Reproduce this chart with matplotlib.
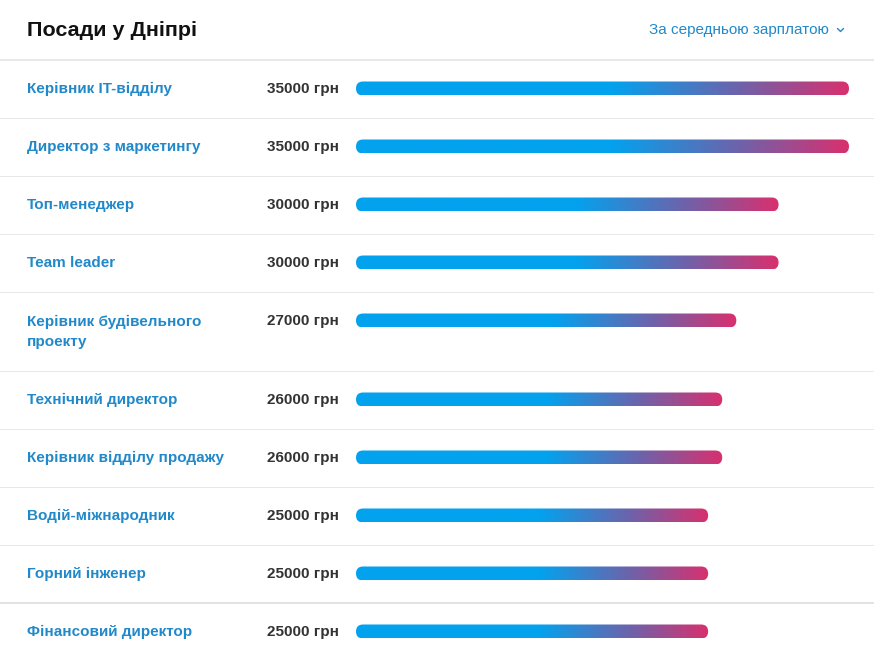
import matplotlib
matplotlib.use("Agg")
import matplotlib.pyplot as plt
import numpy as np
from matplotlib.patches import FancyBboxPatch
from matplotlib.colors import LinearSegmentedColormap

# ---- data ----
title = "Посади у Дніпрі"
sort_label = "За середньою зарплатою"
jobs = [
    "Керівник IT-відділу",
    "Директор з маркетингу",
    "Топ-менеджер",
    "Team leader",
    "Керівник будівельного\nпроекту",
    "Технічний директор",
    "Керівник відділу продажу",
    "Водій-міжнародник",
    "Горний інженер",
    "Фінансовий директор",
]
salaries = [35000, 35000, 30000, 30000, 27000, 26000, 26000, 25000, 25000, 25000]
currency = "грн"

# ---- style ----
W, H = 874, 652
BLUE_TXT = "#2189c9"
DARK = "#333333"
SEP = "#e8e8e8"
plt.rcParams['font.family'] = ['Liberation Sans', 'DejaVu Sans']

fig = plt.figure(figsize=(W / 100, H / 100), dpi=100)
fig.patch.set_facecolor("white")

# text / layout axes in pixel coordinates
ax = fig.add_axes([0, 0, 1, 1])
ax.set_xlim(0, W)
ax.set_ylim(H, 0)
ax.axis("off")

px = 72 / 100  # points per pixel

ax.text(27, 31, title, fontsize=21.5 * px, fontweight="bold", color="#111111",
        va="center", ha="left")
ax.text(829, 30, sort_label, fontsize=15.3 * px, color=BLUE_TXT,
        va="center", ha="right")
ax.plot([837.5, 840.5, 843.5], [28.5, 31.5, 28.5], color=BLUE_TXT, lw=1.0,
        solid_capstyle="round", solid_joinstyle="round")

ax.axhline(60, color=SEP, lw=2 * px)

# bar axes: x in salary units, y in pixels
x0, x1 = 356, 849
bax = fig.add_axes([x0 / W, 0, (x1 - x0) / W, 1])
bax.set_xlim(0, max(salaries))
bax.set_ylim(H, 0)
bax.axis("off")

cmap = LinearSegmentedColormap.from_list(
    "grad", [(0.0, "#03a2ee"), (0.52, "#03a2ee"), (0.78, "#6e62aa"), (1.0, "#d9306e")])
grad = np.linspace(0, 1, 256).reshape(1, -1)

units_per_px = max(salaries) / (x1 - x0)
bar_h = 14
rad = 7

top = 60
for i, (job, val) in enumerate(zip(jobs, salaries)):
    nlines = job.count("\n") + 1
    row_h = 58 + 21 * (nlines - 1)
    yc = top + 28.5
    ax.text(27, yc + 0.5 + 10.5 * (nlines - 1), job, fontsize=15.2 * px, fontweight="bold",
            color=BLUE_TXT, va="center", ha="left", linespacing=1.55)
    ax.text(267, yc + 0.5, f"{val} {currency}", fontsize=15.2 * px, fontweight="bold",
            color=DARK, va="center", ha="left")
    patch = FancyBboxPatch((0, yc - bar_h / 2), val, bar_h,
                           boxstyle=f"round,pad=0,rounding_size={rad * units_per_px}",
                           mutation_aspect=1 / units_per_px,
                           facecolor="none", edgecolor="none")
    bax.add_patch(patch)
    im = bax.imshow(grad, cmap=cmap, aspect="auto",
                    extent=(0, val, yc + bar_h / 2, yc - bar_h / 2),
                    interpolation="bilinear")
    im.set_clip_path(patch)
    top += row_h
    if i < len(jobs) - 1:
        lw = 2 if i == len(jobs) - 2 else 1
        ax.axhline(top, color=SEP if lw == 1 else "#e2e2e2", lw=lw * px)

bax.set_xlim(0, max(salaries))
bax.set_ylim(H, 0)

fig.savefig("out.png", dpi=100, facecolor="white")
